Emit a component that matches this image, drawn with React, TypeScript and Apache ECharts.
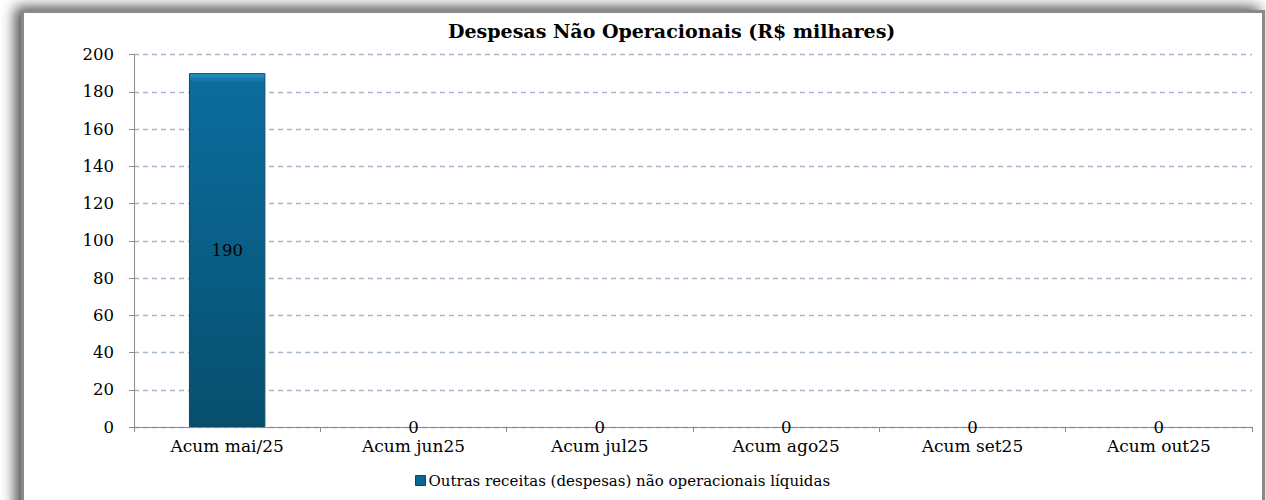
import React, { useEffect, useRef } from "react";
import * as echarts from "echarts";

const title = "Despesas Não Operacionais (R$ milhares)";
const categories = ["Acum mai/25", "Acum jun25", "Acum jul25", "Acum ago25", "Acum set25", "Acum out25"];
const seriesName = "Outras receitas (despesas) não operacionais líquidas";
const values = [190, 0, 0, 0, 0, 0];
const yMin = 0;
const yMax = 200;
const yInterval = 20;

const FONT = "'DejaVu Serif', serif";

export default function App() {
  const ref = useRef<HTMLDivElement>(null);
  useEffect(() => {
    if (!ref.current) return;
    const chart = echarts.init(ref.current, undefined, { renderer: "svg" });
    const barColor = new echarts.graphic.LinearGradient(0, 0, 0, 1, [
      { offset: 0, color: "#2a93c6" },
      { offset: 0.025, color: "#0b6d9e" },
      { offset: 1, color: "#074f6e" },
    ]);
    chart.setOption({
      animation: false,
      backgroundColor: "#ffffff",
      graphic: [
        {
          type: "rect",
          z: -9,
          shape: { x: 22.5, y: 11.5, width: 1241, height: 520 },
          style: {
            fill: "#ffffff",
            stroke: "#8a8a8a",
            lineWidth: 3,
            shadowBlur: 14,
            shadowOffsetX: -6,
            shadowOffsetY: -3,
            shadowColor: "rgba(0,0,0,0.7)",
          },
          silent: true,
        },
      ],
      title: {
        text: title,
        left: 443,
        top: 16,
        textStyle: { fontFamily: FONT, fontSize: 19, fontWeight: "bold", color: "#000" },
      },
      legend: {
        bottom: 7,
        left: 410,
        itemWidth: 10,
        itemHeight: 10,
        itemGap: 4,
        icon: "rect",
        textStyle: { fontFamily: FONT, fontSize: 15, color: "#000", padding: [0, 0, 0, -2] },
        data: [{ name: seriesName, itemStyle: { color: "#0a6592", borderColor: "#064a68", borderWidth: 1 } }],
      },
      grid: { left: 134, right: 14, top: 54.5, bottom: 73, containLabel: false },
      xAxis: {
        type: "category",
        data: categories,
        axisLine: { show: true, lineStyle: { color: "#8c8c8c", width: 1 } },
        axisTick: { show: true, length: 5, lineStyle: { color: "#8c8c8c" } },
        axisLabel: { fontFamily: FONT, fontSize: 17, color: "#000", margin: 10 },
        splitLine: { show: false },
      },
      yAxis: {
        type: "value",
        min: yMin,
        max: yMax,
        interval: yInterval,
        axisLine: { show: true, lineStyle: { color: "#8c8c8c", width: 1 } },
        axisTick: { show: true, length: 5, lineStyle: { color: "#8c8c8c" } },
        axisLabel: { fontFamily: FONT, fontSize: 16.5, color: "#000", margin: 20 },
        splitLine: { show: true, lineStyle: { color: "#a6b8cb", width: 1.3, type: [5, 4] } },
      },
      series: [
        {
          name: seriesName,
          type: "bar",
          data: values.map((v) => ({
            value: v,
            itemStyle: v === 0 ? { borderWidth: 0, color: "rgba(0,0,0,0)" } : {},
          })),
          barWidth: "41%",
          itemStyle: { color: barColor, borderColor: "#0a4a66", borderWidth: 1 },
          label: {
            show: true,
            position: "inside",
            fontFamily: FONT,
            fontSize: 16.5,
            color: "#000",
          },
        },
      ],
    });
    return () => chart.dispose();
  }, []);
  return (
    <div
      ref={ref}
      style={{ position: "absolute", left: 0, top: 0, width: 1266, height: 500 }}
    />
  );
}
